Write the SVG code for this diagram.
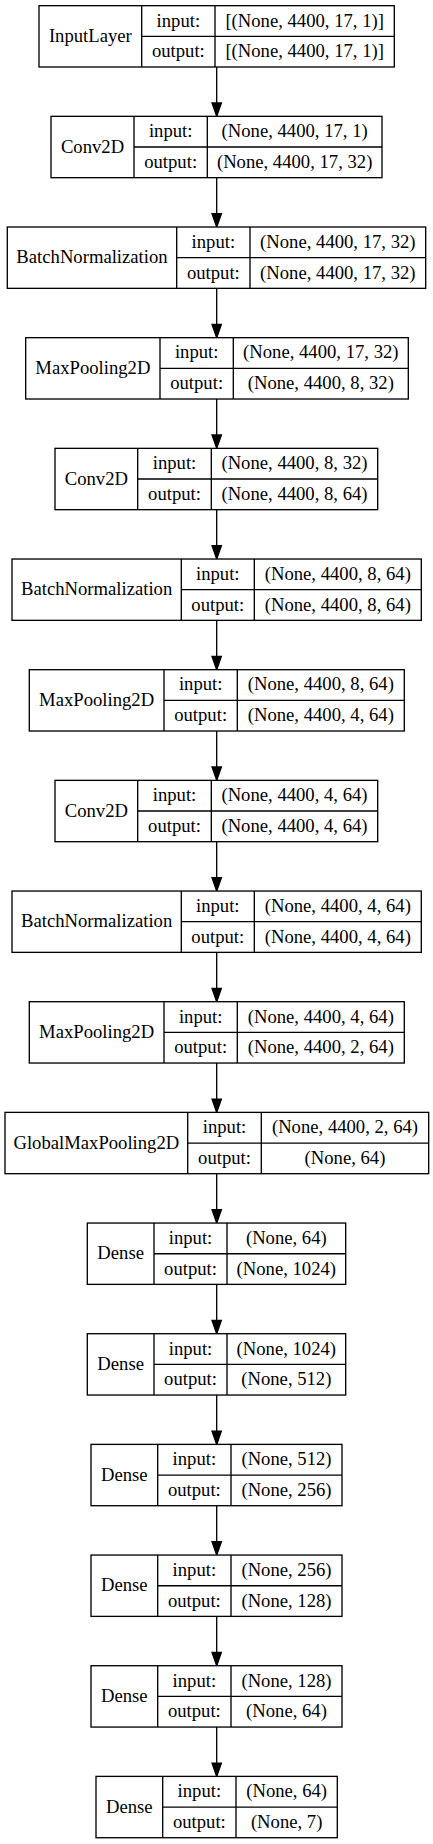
<svg xmlns="http://www.w3.org/2000/svg" width="433" height="1844" viewBox="0 0 433 1844" font-family="Liberation Serif, Times New Roman, serif" font-size="18.67">
<style>
.node rect{fill:#fff;stroke:#000;stroke-width:1.33}
.node path{fill:none;stroke:#000;stroke-width:1.33}
.node text{fill:#000;text-anchor:middle}
.edge{stroke:#000;stroke-width:1.33;fill:none;marker-end:url(#arrow)}
</style>
<defs>
<marker id="arrow" markerUnits="userSpaceOnUse" markerWidth="16" markerHeight="12" viewBox="-1 -6 16 12" refX="0" refY="0" orient="auto" overflow="visible">
<path d="M0,-4.67L13.33,0L0,4.67Z" fill="#000" stroke="#000" stroke-width="1.33"/>
</marker>
</defs>
<rect width="433" height="1844" fill="#fff"/>
<g id="edges">
<path class="edge" d="M216.7,67V103.01"/>
<path class="edge" d="M216.7,177.67V213.68"/>
<path class="edge" d="M216.7,288.34V324.35"/>
<path class="edge" d="M216.7,399.01V435.02"/>
<path class="edge" d="M216.7,509.68V545.69"/>
<path class="edge" d="M216.7,620.35V656.36"/>
<path class="edge" d="M216.7,731.02V767.03"/>
<path class="edge" d="M216.7,841.69V877.7"/>
<path class="edge" d="M216.7,952.36V988.37"/>
<path class="edge" d="M216.7,1063.03V1099.04"/>
<path class="edge" d="M216.7,1173.7V1209.71"/>
<path class="edge" d="M216.7,1284.37V1320.38"/>
<path class="edge" d="M216.7,1395.04V1431.05"/>
<path class="edge" d="M216.7,1505.71V1541.72"/>
<path class="edge" d="M216.7,1616.38V1652.39"/>
<path class="edge" d="M216.7,1727.05V1763.06"/>
</g>
<g id="n0" class="node">
<rect x="39" y="5.67" width="355.3" height="61.33"/>
<path d="M141.7,5.67V67M215,5.67V67M141.7,36.34H394.3"/>
<text x="90.35" y="42.2">InputLayer</text>
<text x="178.35" y="26.5">input:</text>
<text x="178.35" y="57.2">output:</text>
<text x="304.65" y="26.5">[(None, 4400, 17, 1)]</text>
<text x="304.65" y="57.2">[(None, 4400, 17, 1)]</text>
</g>
<g id="n1" class="node">
<rect x="51" y="116.34" width="331" height="61.33"/>
<path d="M134,116.34V177.67M207.3,116.34V177.67M134,147.01H382"/>
<text x="92.5" y="152.7">Conv2D</text>
<text x="170.65" y="137.14">input:</text>
<text x="170.65" y="167.84">output:</text>
<text x="294.65" y="137.14">(None, 4400, 17, 1)</text>
<text x="294.65" y="167.84">(None, 4400, 17, 32)</text>
</g>
<g id="n2" class="node">
<rect x="7.3" y="227.01" width="418.4" height="61.33"/>
<path d="M176.7,227.01V288.34M250,227.01V288.34M176.7,257.68H425.7"/>
<text x="92" y="263.4">BatchNormalization</text>
<text x="213.35" y="247.81">input:</text>
<text x="213.35" y="278.51">output:</text>
<text x="337.85" y="247.81">(None, 4400, 17, 32)</text>
<text x="337.85" y="278.51">(None, 4400, 17, 32)</text>
</g>
<g id="n3" class="node">
<rect x="25.7" y="337.68" width="382.6" height="61.33"/>
<path d="M160,337.68V399.01M233.3,337.68V399.01M160,368.35H408.3"/>
<text x="92.85" y="374.05">MaxPooling2D</text>
<text x="196.65" y="358.48">input:</text>
<text x="196.65" y="389.18">output:</text>
<text x="320.8" y="358.48">(None, 4400, 17, 32)</text>
<text x="320.8" y="389.18">(None, 4400, 8, 32)</text>
</g>
<g id="n4" class="node">
<rect x="55" y="448.35" width="322.7" height="61.33"/>
<path d="M137.7,448.35V509.68M211.3,448.35V509.68M137.7,479.02H377.7"/>
<text x="96.35" y="484.7">Conv2D</text>
<text x="174.5" y="469.15">input:</text>
<text x="174.5" y="499.85">output:</text>
<text x="294.5" y="469.15">(None, 4400, 8, 32)</text>
<text x="294.5" y="499.85">(None, 4400, 8, 64)</text>
</g>
<g id="n5" class="node">
<rect x="12" y="559.02" width="409.3" height="61.33"/>
<path d="M181.3,559.02V620.35M254.3,559.02V620.35M181.3,589.69H421.3"/>
<text x="96.65" y="595.4">BatchNormalization</text>
<text x="217.8" y="579.82">input:</text>
<text x="217.8" y="610.52">output:</text>
<text x="337.8" y="579.82">(None, 4400, 8, 64)</text>
<text x="337.8" y="610.52">(None, 4400, 8, 64)</text>
</g>
<g id="n6" class="node">
<rect x="29.3" y="669.69" width="375" height="61.33"/>
<path d="M164,669.69V731.02M237.3,669.69V731.02M164,700.36H404.3"/>
<text x="96.65" y="706.05">MaxPooling2D</text>
<text x="200.65" y="690.49">input:</text>
<text x="200.65" y="721.19">output:</text>
<text x="320.8" y="690.49">(None, 4400, 8, 64)</text>
<text x="320.8" y="721.19">(None, 4400, 4, 64)</text>
</g>
<g id="n7" class="node">
<rect x="55" y="780.36" width="322.7" height="61.33"/>
<path d="M137.7,780.36V841.69M211.3,780.36V841.69M137.7,811.03H377.7"/>
<text x="96.35" y="816.7">Conv2D</text>
<text x="174.5" y="801.16">input:</text>
<text x="174.5" y="831.86">output:</text>
<text x="294.5" y="801.16">(None, 4400, 4, 64)</text>
<text x="294.5" y="831.86">(None, 4400, 4, 64)</text>
</g>
<g id="n8" class="node">
<rect x="12" y="891.03" width="409.3" height="61.33"/>
<path d="M181.3,891.03V952.36M254.3,891.03V952.36M181.3,921.7H421.3"/>
<text x="96.65" y="927.4">BatchNormalization</text>
<text x="217.8" y="911.83">input:</text>
<text x="217.8" y="942.53">output:</text>
<text x="337.8" y="911.83">(None, 4400, 4, 64)</text>
<text x="337.8" y="942.53">(None, 4400, 4, 64)</text>
</g>
<g id="n9" class="node">
<rect x="29.3" y="1001.7" width="375" height="61.33"/>
<path d="M164,1001.7V1063.03M237.3,1001.7V1063.03M164,1032.37H404.3"/>
<text x="96.65" y="1038.05">MaxPooling2D</text>
<text x="200.65" y="1022.5">input:</text>
<text x="200.65" y="1053.2">output:</text>
<text x="320.8" y="1022.5">(None, 4400, 4, 64)</text>
<text x="320.8" y="1053.2">(None, 4400, 2, 64)</text>
</g>
<g id="n10" class="node">
<rect x="5" y="1112.37" width="423.7" height="61.33"/>
<path d="M187.7,1112.37V1173.7M261.3,1112.37V1173.7M187.7,1143.04H428.7"/>
<text x="96.35" y="1148.7">GlobalMaxPooling2D</text>
<text x="224.5" y="1133.17">input:</text>
<text x="224.5" y="1163.87">output:</text>
<text x="345" y="1133.17">(None, 4400, 2, 64)</text>
<text x="345" y="1163.87">(None, 64)</text>
</g>
<g id="n11" class="node">
<rect x="87.3" y="1223.04" width="258.4" height="61.33"/>
<path d="M154,1223.04V1284.37M227,1223.04V1284.37M154,1253.71H345.7"/>
<text x="120.65" y="1259.4">Dense</text>
<text x="190.5" y="1243.84">input:</text>
<text x="190.5" y="1274.54">output:</text>
<text x="286.35" y="1243.84">(None, 64)</text>
<text x="286.35" y="1274.54">(None, 1024)</text>
</g>
<g id="n12" class="node">
<rect x="87.3" y="1333.71" width="258.4" height="61.33"/>
<path d="M154,1333.71V1395.04M227,1333.71V1395.04M154,1364.38H345.7"/>
<text x="120.65" y="1370.05">Dense</text>
<text x="190.5" y="1354.51">input:</text>
<text x="190.5" y="1385.21">output:</text>
<text x="286.35" y="1354.51">(None, 1024)</text>
<text x="286.35" y="1385.21">(None, 512)</text>
</g>
<g id="n13" class="node">
<rect x="91" y="1444.38" width="251" height="61.33"/>
<path d="M157.7,1444.38V1505.71M231,1444.38V1505.71M157.7,1475.05H342"/>
<text x="124.35" y="1480.7">Dense</text>
<text x="194.35" y="1465.18">input:</text>
<text x="194.35" y="1495.88">output:</text>
<text x="286.5" y="1465.18">(None, 512)</text>
<text x="286.5" y="1495.88">(None, 256)</text>
</g>
<g id="n14" class="node">
<rect x="91" y="1555.05" width="251" height="61.33"/>
<path d="M157.7,1555.05V1616.38M231,1555.05V1616.38M157.7,1585.72H342"/>
<text x="124.35" y="1591.4">Dense</text>
<text x="194.35" y="1575.85">input:</text>
<text x="194.35" y="1606.55">output:</text>
<text x="286.5" y="1575.85">(None, 256)</text>
<text x="286.5" y="1606.55">(None, 128)</text>
</g>
<g id="n15" class="node">
<rect x="91" y="1665.72" width="251" height="61.33"/>
<path d="M157.7,1665.72V1727.05M231,1665.72V1727.05M157.7,1696.39H342"/>
<text x="124.35" y="1702.05">Dense</text>
<text x="194.35" y="1686.52">input:</text>
<text x="194.35" y="1717.22">output:</text>
<text x="286.5" y="1686.52">(None, 128)</text>
<text x="286.5" y="1717.22">(None, 64)</text>
</g>
<g id="n16" class="node">
<rect x="96" y="1776.39" width="241.3" height="61.33"/>
<path d="M162.7,1776.39V1837.72M236,1776.39V1837.72M162.7,1807.06H337.3"/>
<text x="129.35" y="1812.7">Dense</text>
<text x="199.35" y="1797.19">input:</text>
<text x="199.35" y="1827.89">output:</text>
<text x="286.65" y="1797.19">(None, 64)</text>
<text x="286.65" y="1827.89">(None, 7)</text>
</g>
</svg>
